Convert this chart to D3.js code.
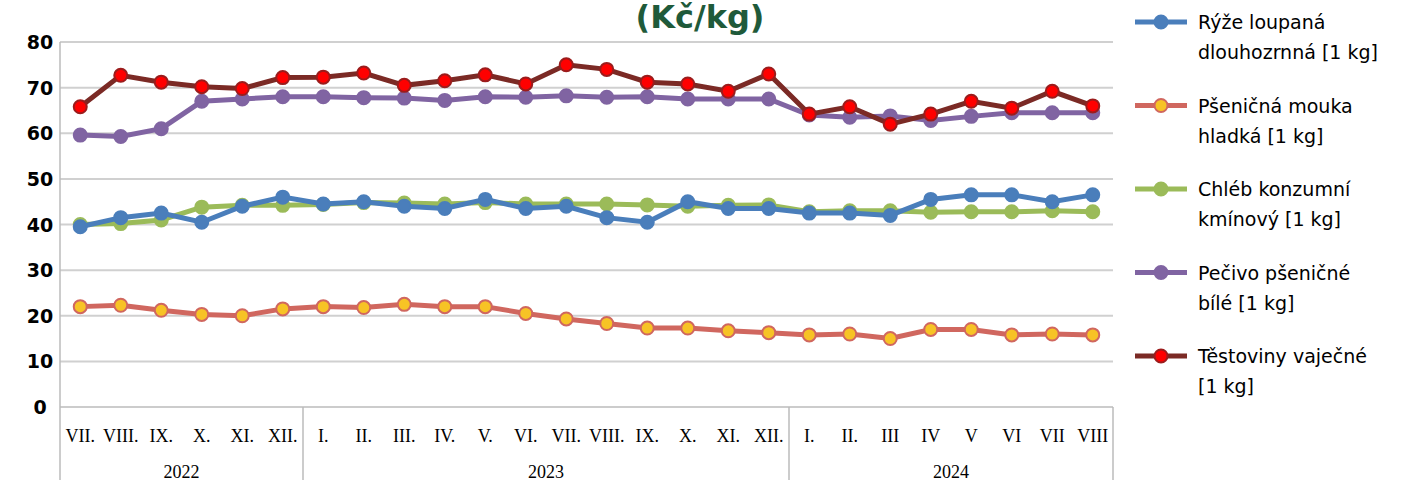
<!DOCTYPE html><html><head><meta charset="utf-8"><script src="https://cdn.jsdelivr.net/npm/d3@7"></script>
<style>body{margin:0;background:#fff}</style></head><body><svg id="c" width="1413" height="480"></svg>
<script>
const months=["VII.","VIII.","IX.","X.","XI.","XII.","I.","II.","III.","IV.","V.","VI.","VII.","VIII.","IX.","X.","XI.","XII.","I.","II.","III","IV","V","VI","VII","VIII"];
const years=[{y:"2022",n:6},{y:"2023",n:12},{y:"2024",n:8}];
const yTicks=[0,10,20,30,40,50,60,70,80];
const names=[["Rýže loupaná","dlouhozrnná [1 kg]"],["Pšeničná mouka","hladká [1 kg]"],["Chléb konzumní","kmínový [1 kg]"],["Pečivo pšeničné","bílé [1 kg]"],["Těstoviny vaječné","[1 kg]"]];
const rice=[39.5,41.5,42.5,40.5,44,46,44.5,45,44,43.5,45.5,43.5,44,41.5,40.5,45,43.5,43.5,42.5,42.5,42,45.5,46.5,46.5,45,46.5];
const flour=[22,22.3,21.2,20.3,20,21.5,22,21.8,22.5,22,22,20.5,19.3,18.3,17.3,17.3,16.7,16.3,15.8,16,15,17,17,15.8,16,15.8];
const bread=[40,40.2,41,43.8,44.2,44.2,44.4,44.8,44.7,44.5,44.8,44.5,44.5,44.5,44.3,44,44.2,44.3,42.8,43,43,42.7,42.8,42.8,43,42.8];
const pecivo=[59.6,59.3,61,67,67.5,68,68,67.8,67.7,67.2,68,67.9,68.2,67.9,68,67.5,67.5,67.5,64,63.5,63.8,62.8,63.7,64.5,64.5,64.5];
const pasta=[65.8,72.7,71.2,70.2,69.8,72.2,72.3,73.2,70.5,71.5,72.8,70.8,75,74,71.2,70.8,69.2,73,64.2,65.8,62,64.2,67,65.5,69.2,66];
const series=[
 {v:rice,line:"#4a7ebb",fill:"#4a7ebb",stroke:"#4a7ebb"},
 {v:flour,line:"#d0675f",fill:"#f7c325",stroke:"#d0675f"},
 {v:bread,line:"#9bbb59",fill:"#9bbb59",stroke:"#9bbb59"},
 {v:pecivo,line:"#8064a2",fill:"#8064a2",stroke:"#8064a2"},
 {v:pasta,line:"#7b2a25",fill:"#ff0000",stroke:"#9b1c1c"}];
const svg=d3.select("#c");
const L=60,R=1113,T=42,B=407;
const x=d3.scaleBand().domain(d3.range(months.length)).range([L,R]);
const y=d3.scaleLinear().domain([0,80]).range([B,T]);
svg.append("text").attr("x",700).attr("y",28).attr("text-anchor","middle").attr("font-family","Verdana, DejaVu Sans").attr("font-weight","bold").attr("font-size",32).attr("fill","#1f5a3a").text("(Kč/kg)");
yTicks.forEach(t=>{
 if(t>0)svg.append("line").attr("x1",L).attr("x2",R).attr("y1",y(t)).attr("y2",y(t)).attr("stroke","#d0d0d0").attr("stroke-width",2);
 svg.append("text").attr("x",40).attr("y",y(t)+7).attr("text-anchor","middle").attr("font-family","Verdana, DejaVu Sans").attr("font-weight","bold").attr("font-size",19).text(t);
});
svg.append("line").attr("x1",L).attr("x2",R).attr("y1",B).attr("y2",B).attr("stroke","#bbb").attr("stroke-width",1.5);
svg.append("line").attr("x1",L).attr("x2",L).attr("y1",T).attr("y2",480).attr("stroke","#bbb").attr("stroke-width",1.5);
months.forEach((m,i)=>svg.append("text").attr("x",x(i)+x.bandwidth()/2).attr("y",442).attr("text-anchor","middle").attr("font-family","Liberation Serif, Times New Roman").attr("font-size",18).text(m));
let acc=0;
years.forEach(g=>{
 const x0=x(acc),x1=acc+g.n<months.length?x(acc+g.n):R;
 svg.append("text").attr("x",(x0+x1)/2).attr("y",478).attr("text-anchor","middle").attr("font-family","Liberation Serif, Times New Roman").attr("font-size",18).text(g.y);
 acc+=g.n;
 svg.append("line").attr("x1",x1).attr("x2",x1).attr("y1",B).attr("y2",480).attr("stroke","#bbb").attr("stroke-width",1.5);
});
const cx=i=>x(i)+x.bandwidth()/2;
const line=d3.line().x((d,i)=>cx(i)).y(d=>y(d));
[2,0,1,3,4].forEach(k=>{
 const s=series[k];
 svg.append("path").attr("d",line(s.v)).attr("fill","none").attr("stroke",s.line).attr("stroke-width",5);
 svg.selectAll(null).data(s.v).enter().append("circle").attr("cx",(d,i)=>cx(i)).attr("cy",d=>y(d)).attr("r",6.5).attr("fill",s.fill).attr("stroke",s.stroke).attr("stroke-width",2);
});
names.forEach((n,k)=>{
 const s=series[k],yy=22+k*83.5;
 svg.append("line").attr("x1",1135).attr("x2",1187).attr("y1",yy).attr("y2",yy).attr("stroke",s.line).attr("stroke-width",5);
 svg.append("circle").attr("cx",1161).attr("cy",yy).attr("r",6.5).attr("fill",s.fill).attr("stroke",s.stroke).attr("stroke-width",2);
 n.forEach((t,j)=>svg.append("text").attr("x",1198).attr("y",yy+7+j*30).attr("font-family","Verdana, DejaVu Sans").attr("font-size",19).text(t));
});
</script></body></html>
